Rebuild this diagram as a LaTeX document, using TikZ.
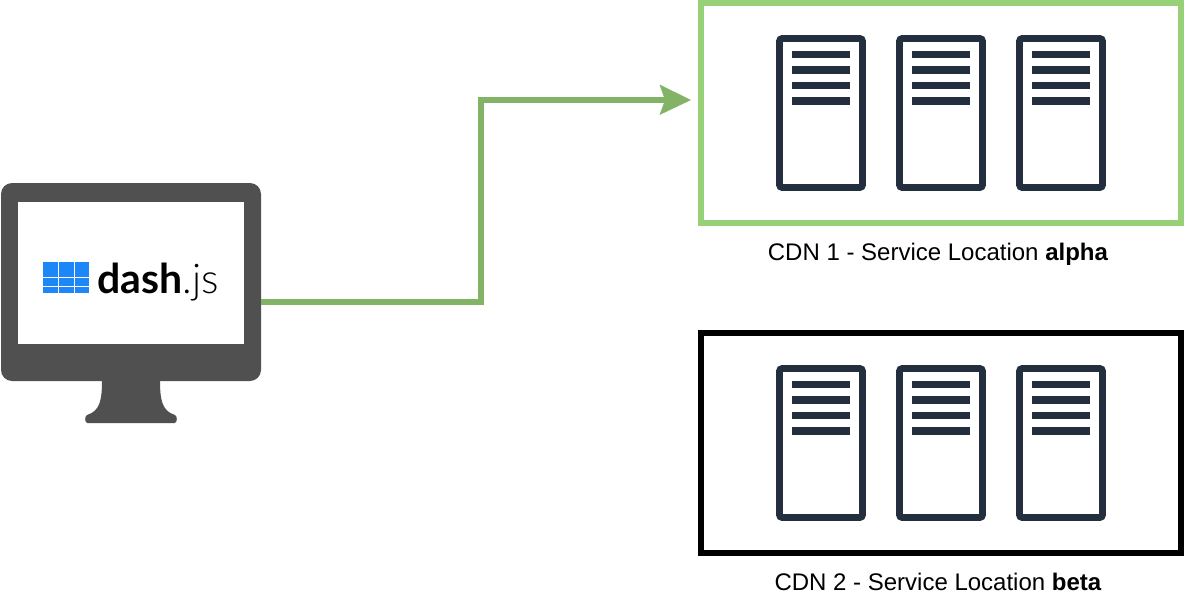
\documentclass[tikz,border=0pt]{standalone}
\usepackage{fontspec}
\setmainfont{Liberation Sans}
\newfontfamily\logobold{Lato}[UprightFont=* Bold]
\newfontfamily\logolight{Lato}[UprightFont=* Light]
\definecolor{monitorgray}{HTML}{505050}
\definecolor{servernavy}{HTML}{232F3E}
\definecolor{boxgreen}{HTML}{97D077}
\definecolor{linkgreen}{HTML}{82B366}
\definecolor{logoblue}{HTML}{1E87F7}
\tikzset{
  x=1pt,y=-1pt,
  cdnbox/.style={draw=#1,line width=6pt,fill=white,minimum width=480pt,minimum height=220pt,inner sep=0pt},
  serverbox/.style={draw=servernavy,fill=white,line width=6.6pt,rounded corners=2.5pt,minimum width=83pt,minimum height=149pt,inner sep=0pt},
  serverbar/.style={fill=servernavy,minimum width=58.5pt,minimum height=7.2pt,inner sep=0pt},
  captext/.style={font=\fontsize{24}{28}\selectfont,inner sep=0pt},
  logocell/.style={fill=logoblue,inner sep=0pt,anchor=north west},
  link/.style={draw=linkgreen,line width=5.6pt}
}
\begin{document}
\begin{tikzpicture}
\useasboundingbox (0,0) rectangle (1184,616);
% monitor
\node[fill=monitorgray,rounded corners=11pt,minimum width=260pt,minimum height=198pt,inner sep=0pt] (monitor) at (131,282) {};
\fill[monitorgray] (102,380) .. controls (102,400) and (100,411) .. (87,415) .. controls (84.5,416) and (84.5,423) .. (87.5,423) -- (174.5,423) .. controls (177.5,423) and (177.5,416) .. (175,415) .. controls (162,411) and (160,400) .. (160,380) -- cycle;
\node[fill=white,minimum width=226pt,minimum height=142.5pt,inner sep=0pt] (screen) at (131,273) {};
% logo
\foreach \n/\cx/\cy/\cw/\ch in {a/43/262/14.7/14.5,b/58.7/262/14.7/14.5,c/74.4/262/14.7/14.5,d/43/277.5/14.7/8,e/58.7/277.5/14.7/8,f/74.4/277.5/14.7/8,g/43/286.5/14.7/6.2,h/58.7/286.5/14.7/6.2,i/74.4/286.5/14.7/6.2}
  \node[logocell,minimum width=\cw pt,minimum height=\ch pt] (cell\n) at (\cx,\cy) {};
\node[anchor=base west,inner sep=0pt,font=\fontsize{41}{45}\selectfont] (logo) at (97,293) {{\logobold dash}{\logolight .js}};
% boxes
\node[cdnbox=boxgreen] (cdnA) at (941,113) {};
\node[cdnbox=black] (cdnB) at (941,443) {};
\foreach \dy/\r in {0/a,330/b}{
  \foreach \dx/\s in {0/x,120/y,240/z}{
    \node[serverbox] (srv\r\s) at (821+\dx,113+\dy) {};
    \foreach \by in {54.7,69.9,85.6,101}{
      \node[serverbar] (bar\r\s\by) at (821+\dx,\by+\dy) {};
    }
  }
}
\node[captext,anchor=base] (capA) at (938,260) {CDN 1 - Service Location \textbf{alpha}};
\node[captext,anchor=base] (capB) at (938,590) {CDN 2 - Service Location \textbf{beta}};
% connector
\coordinate (start) at (261,302);
\coordinate (elbowA) at (481,302);
\coordinate (elbowB) at (481,100);
\coordinate (head) at (672,100);
\draw[link] (start) -- (elbowA) -- (elbowB) -- (head);
\coordinate (tip) at (691,100);
\fill[linkgreen] (tip) -- (659.5,115) -- (665,100) -- (659.5,84.5) -- cycle;
\end{tikzpicture}
\end{document}
